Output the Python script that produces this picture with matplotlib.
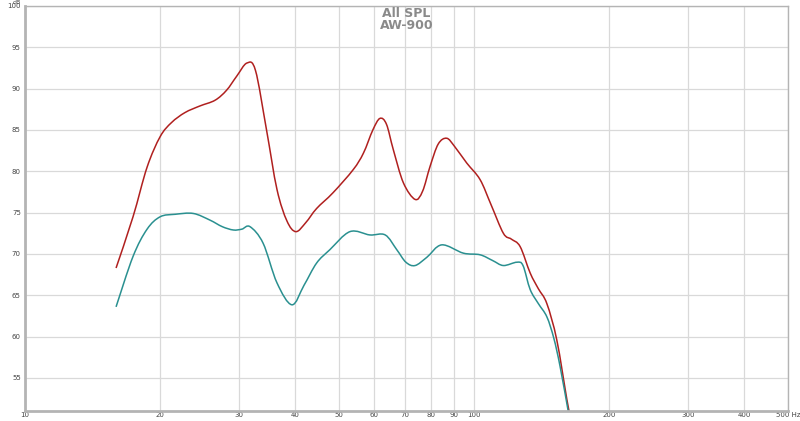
import numpy as np
import matplotlib
matplotlib.use("Agg")
import matplotlib.pyplot as plt
from matplotlib.path import Path
from matplotlib.patches import PathPatch
from matplotlib.ticker import FixedLocator, NullLocator

# (Hz, dB)
red_freq = [15.95, 17.4, 18.7, 20.0, 21.2, 22.7, 24.5, 26.5, 28.1, 29.6, 31.2, 32.6,
            34.5, 36.4, 38.3, 40.1, 42.2, 44.6, 48.5, 53.8, 56.7, 59.5, 61.7, 63.8,
            66.1, 69.6, 73.9, 76.8, 79.8, 83.2, 86.9, 90.5, 96.3, 103.1, 109.0, 116.2,
            121.0, 126.6, 133.3, 139.0, 145.2, 152.8, 160.9, 162.8]
red_db = [68.3, 74.5, 80.5, 84.2, 85.9, 87.1, 87.9, 88.6, 89.8, 91.5, 93.1, 92.2,
          85.0, 77.8, 74.0, 72.7, 73.8, 75.5, 77.4, 80.2, 82.2, 85.0, 86.4, 85.7,
          82.6, 78.6, 76.6, 77.6, 80.6, 83.3, 84.0, 83.0, 81.0, 79.0, 76.0, 72.5,
          71.8, 70.9, 67.7, 65.8, 64.0, 59.6, 52.4, 51.0]

teal_freq = [15.95, 17.4, 18.7, 20.0, 21.6, 23.7, 25.8, 27.5, 29.1, 30.4, 31.7, 33.9,
             36.4, 39.3, 41.8, 44.6, 47.7, 52.9, 58.6, 63.4, 67.3, 70.5, 73.9, 78.5,
             84.7, 94.6, 103.1, 110.0, 116.2, 124.5, 128.5, 133.3, 139.0, 145.2,
             150.5, 155.4, 162.0]
teal_db = [63.6, 69.7, 73.0, 74.5, 74.8, 74.9, 74.1, 73.3, 72.9, 73.0, 73.3, 71.3,
           66.5, 63.85, 66.2, 68.9, 70.5, 72.7, 72.3, 72.3, 70.5, 69.0, 68.6, 69.6,
           71.1, 70.1, 69.9, 69.2, 68.6, 69.0, 68.6, 65.7, 64.0, 62.4, 59.8, 56.4, 51.0]

x_ticks = [10, 20, 30, 40, 50, 60, 70, 80, 90, 100, 200, 300, 400, 500]
x_labels = ["10", "20", "30", "40", "50", "60", "70", "80", "90", "100",
            "200", "300", "400", "500 Hz"]
y_ticks = [55, 60, 65, 70, 75, 80, 85, 90, 95, 100]

red_clr = "#b0201f"
teal_clr = "#2a9090"
frame_clr = "#b4b4b4"
grid_clr = "#d9d9d9"


def smooth_path(freqs, dbs):
    # Catmull-Rom through the points (in log-frequency), drawn as bezier segments
    lx = np.log10(freqs)
    y = np.asarray(dbs, dtype=float)
    n = len(lx)
    verts = [(freqs[0], y[0])]
    codes = [Path.MOVETO]
    for i in range(n - 1):
        i0 = max(i - 1, 0)
        i3 = min(i + 2, n - 1)
        c1x = lx[i] + (lx[i + 1] - lx[i0]) / 6
        c1y = y[i] + (y[i + 1] - y[i0]) / 6
        c2x = lx[i + 1] - (lx[i3] - lx[i]) / 6
        c2y = y[i + 1] - (y[i3] - y[i]) / 6
        verts += [(10 ** c1x, c1y), (10 ** c2x, c2y), (freqs[i + 1], y[i + 1])]
        codes += [Path.CURVE4] * 3
    return Path(verts, codes)


fig = plt.figure(figsize=(8, 4.21), dpi=100)
ax = fig.add_axes([25 / 800, 10 / 421, 763 / 800, 405 / 421])

for fr, db, clr in [(red_freq, red_db, red_clr), (teal_freq, teal_db, teal_clr)]:
    ax.add_patch(PathPatch(smooth_path(fr, db), facecolor="none", edgecolor=clr,
                           linewidth=1.1, clip_on=True))

ax.set_xscale("log")
ax.set_xlim(10, 500)
ax.set_ylim(51, 100)

ax.xaxis.set_major_locator(FixedLocator(x_ticks))
ax.xaxis.set_minor_locator(NullLocator())
ax.set_xticklabels(x_labels)
ax.set_yticks(y_ticks)
ax.set_yticklabels([str(v) for v in y_ticks])

ax.grid(True, color=grid_clr, linewidth=0.9)
ax.set_axisbelow(True)
ax.tick_params(axis="both", length=0, labelsize=5, colors="#444444")
ax.tick_params(axis="x", pad=1)
ax.tick_params(axis="y", pad=3)

for side in ["top", "right"]:
    ax.spines[side].set_color(frame_clr)
    ax.spines[side].set_linewidth(1.0)
for side in ["left", "bottom"]:
    ax.spines[side].set_color(frame_clr)
    ax.spines[side].set_linewidth(2.0)

fig.text(21 / 800, 1 - 0.5 / 421, "dB", ha="right", va="top",
         fontsize=4.5, color="#444444")
ax.text(0.5, 0.998, "All SPL\nAW-900", transform=ax.transAxes, ha="center", va="top",
        fontsize=9, fontweight="bold", color="#8a8a8a", linespacing=0.9)

fig.savefig("out.png", dpi=100)
